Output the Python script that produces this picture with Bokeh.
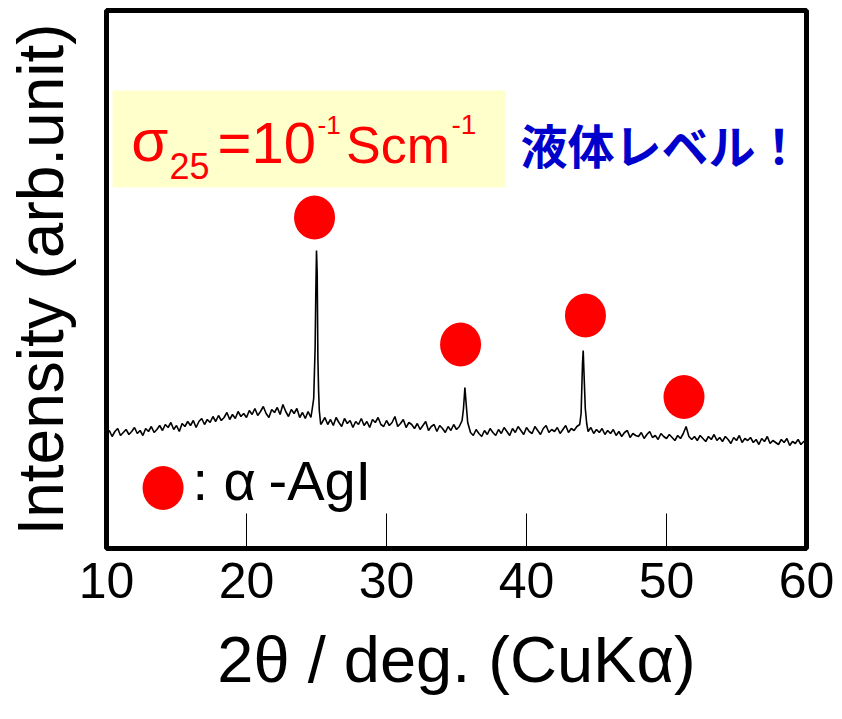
import numpy as np
from bokeh.plotting import figure
from bokeh.models import Range1d, FixedTicker, Label, BoxAnnotation
from bokeh.embed import file_html
from bokeh.resources import INLINE

# ---- data ----
x_start, x_step = 10.0, 0.2
intensity_grid = [
    114, 118, 112, 117, 120, 113, 116, 119, 114, 117,   # 10.0-11.8
    121, 115, 118, 113, 120, 117, 122, 116, 119, 123,   # 12.0-13.8
    118, 124, 121, 126, 119, 123, 117, 125, 122, 127,   # 14.0-15.8
    123, 128, 121, 127, 130, 124, 129, 126, 132, 127,   # 16.0-17.8
    133, 128, 131, 136, 129, 134, 130, 137, 132, 135,   # 18.0-19.8
    131, 138, 134, 140, 133, 137, 142, 135, 131, 139,   # 20.0-21.8
    136, 141, 134, 144, 137, 132, 139, 135, 140, 131,   # 22.0-23.8
    136, 130, 137, 131, 150, 298, 138, 126, 131, 124,   # 24.0-25.8
    129, 123, 131, 126, 122, 130, 125, 128, 121, 127,   # 26.0-27.8
    124, 130, 123, 127, 121, 129, 126, 131, 124, 122,   # 28.0-29.8
    128, 123, 126, 132, 122, 125, 129, 121, 126, 124,   # 30.0-31.8
    120, 125, 119, 123, 127, 118, 122, 124, 117, 123,   # 32.0-33.8
    120, 116, 122, 118, 124, 119, 122, 128, 161, 126,   # 34.0-35.8
    116, 113, 119, 115, 112, 118, 114, 120, 116, 113,   # 36.0-37.8
    119, 115, 121, 117, 113, 120, 116, 122, 118, 114,   # 38.0-39.8
    121, 117, 115, 122, 118, 114, 120, 123, 116, 119,   # 40.0-41.8
    117, 121, 115, 119, 123, 116, 120, 118, 122, 124,   # 42.0-43.8
    185, 140, 117, 121, 115, 119, 116, 120, 114, 118,   # 44.0-45.8
    115, 119, 113, 117, 112, 116, 118, 111, 115, 113,   # 46.0-47.8
    112, 116, 110, 114, 117, 111, 113, 109, 115, 112,   # 48.0-49.8
    110, 114, 111, 108, 113, 110, 115, 122, 112, 109,   # 50.0-51.8
    112, 108, 113, 110, 107, 112, 109, 114, 108, 111,   # 52.0-53.8
    107, 112, 109, 105, 111, 108, 113, 106, 110, 108,   # 54.0-55.8
    111, 106, 109, 104, 110, 107, 112, 105, 108, 106,   # 56.0-57.8
    104, 109, 106, 110, 103, 107, 105, 109, 104, 107,   # 58.0-59.8
    106,                                                # 60.0
]
# extra points resolving the sharp reflections
peak_two_theta = [24.7, 24.9, 24.95, 25.05, 25.1, 25.15, 25.3,
                  35.5, 35.7,
                  43.9, 44.05, 44.1, 44.3]
peak_intensity = [140, 200, 255, 275, 190, 158, 124,
                  140, 143,
                  135, 198, 178, 125]

# alpha-AgI reflection markers
marker_two_theta = [24.86, 35.29, 44.21, 51.25]
marker_intensity = [331, 204, 233, 151.5]
legend_two_theta = [14.04]
legend_intensity = [60.5]

x_ticks = [10, 20, 30, 40, 50, 60]

grid_x = [round(x_start + i * x_step, 2) for i in range(len(intensity_grid))]
xs = np.array(grid_x + peak_two_theta)
ys = np.array(intensity_grid + peak_intensity, dtype=float)
order = np.argsort(xs, kind="stable")
xs, ys = xs[order], ys[order]

SANS = "Liberation Sans"

p = figure(width=834, height=716, output_backend="svg", toolbar_location=None,
           x_range=Range1d(10, 60), y_range=Range1d(0, 538),
           frame_width=700, frame_height=538,
           min_border_left=106, min_border_top=10, min_border_right=28, min_border_bottom=168)
p.grid.visible = False
p.outline_line_color = "black"
p.outline_line_width = 5
p.background_fill_color = "white"
p.border_fill_color = "white"

# x axis
xa = p.xaxis[0]
xa.ticker = FixedTicker(ticks=x_ticks)
xa.minor_tick_line_color = None
xa.axis_line_color = None
xa.major_tick_in = 35
xa.major_tick_out = 0
xa.major_tick_line_width = 1
xa.major_tick_line_color = "black"
xa.major_label_text_font = SANS
xa.major_label_text_font_size = "50px"
xa.major_label_text_color = "black"
xa.major_label_standoff = 14
xa.axis_label = "2θ / deg. (CuKα)"
xa.axis_label_text_font = SANS
xa.axis_label_text_font_size = "65px"
xa.axis_label_text_font_style = "normal"
xa.axis_label_text_color = "black"
xa.axis_label_standoff = 22

# y axis
ya = p.yaxis[0]
ya.ticker = FixedTicker(ticks=[])
ya.minor_tick_line_color = None
ya.major_tick_line_color = None
ya.axis_line_color = None
ya.major_label_text_font_size = "0px"
ya.axis_label = "Intensity (arb.unit)"
ya.axis_label_text_font = SANS
ya.axis_label_text_font_size = "64px"
ya.axis_label_text_font_style = "normal"
ya.axis_label_text_color = "black"
ya.axis_label_standoff = 30

# yellow box
p.add_layout(BoxAnnotation(left=10.43, right=38.5, bottom=361, top=458,
                           fill_color="#FFFFCC", fill_alpha=1.0, line_color=None, level="underlay"))

# pattern
p.line(xs, ys, line_color="black", line_width=1.6)

# markers
p.ellipse(marker_two_theta, marker_intensity, width=41, height=44,
          width_units="screen", height_units="screen", fill_color="#FF0000", line_color=None)
p.ellipse(legend_two_theta, legend_intensity, width=41, height=44,
          width_units="screen", height_units="screen", fill_color="#FF0000", line_color=None)

RED = "#FF0000"
def lab(x, y, text, size, font=SANS, color=RED, style="normal"):
    p.add_layout(Label(x=x, y=y, text=text, text_font=font, text_font_size=size,
                       text_color=color, text_font_style=style, text_baseline="middle",
                       text_align="left"))

lab(11.76, 407.8, "σ", "60px")
lab(14.5, 382.5, "25", "36px")
lab(17.93, 406.1, "=10", "58px")
lab(25.07, 424, "-1", "26px")
lab(27.11, 404, "Scm", "52px")
lab(34.64, 423.7, "-1", "28px")

lab(39.57, 405, "液体レベル！", "47px", font="Noto Sans CJK JP", color="#0000CC", style="bold")

lab(16.14, 67.6, ": α", "56px", color="black")
lab(21.57, 67.6, "-AgI", "56px", color="black")

open("out.html", "w").write(file_html(p, INLINE))
